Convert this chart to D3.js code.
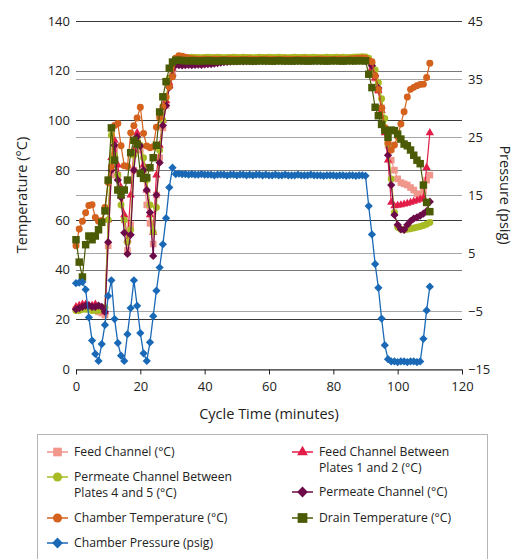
<!DOCTYPE html>
<html>
<head>
<meta charset="utf-8">
<script src="https://cdn.jsdelivr.net/npm/d3@7"></script>
<style>
  body { margin: 0; background: #fff; }
  svg { font-family: "Open Sans", sans-serif; }
</style>
</head>
<body>
<script>
// sampling grid, one reading per minute
const minutes = d3.range(0, 111);

const xTicks = [0, 20, 40, 60, 80, 100, 120];
const tempTicks = [0, 20, 40, 60, 80, 100, 120, 140];
const pressTicks = [-15, -5, 5, 15, 25, 35, 45];

// t0-31, plateau t32-89, t90-110
const feedChannel = [
  24, 24, 24.5, 25, 25, 24.5, 24, 23, 22.5, 21.7,
  49.6, 78, 88, 78, 70, 60, 47.7, 58, 80, 92,
  88, 78, 66, 58.6, 50.3, 70, 85, 97, 106, 114,
  120, 123,
  124.6, 124.5, 124.4, 124.3, 124.3, 124.4, 124.3, 124.2, 124.3, 124.4,
  124.3, 124.3, 124.2, 124.3, 124.4, 124.3, 124.3, 124.4, 124.3, 124.2,
  124.3, 124.3, 124.4, 124.3, 124.3, 124.2, 124.3, 124.4, 124.3, 124.3,
  124.3, 124.4, 124.3, 124.2, 124.3, 124.3, 124.4, 124.3, 124.3, 124.2,
  124.3, 124.4, 124.3, 124.3, 124.3, 124.2, 124.3, 124.4, 124.3, 124.3,
  124.4, 124.3, 124.2, 124.3, 124.4, 124.3, 124.4, 124.5,
  124.5, 124, 121, 117, 112, 105, 97, 90, 84, 80,
  76.5, 75, 74.5, 74, 73, 72, 70.5, 70, 71.5, 76,
  78
];

const feedBetween = [
  25, 25.5, 26, 26, 25.5, 25.5, 26, 25, 24, 23,
  60, 85, 92, 82, 73, 62, 52, 70, 88, 95,
  90, 82, 72, 62, 55, 78, 90, 100, 108, 115,
  121, 124,
  124.8, 124.7, 124.6, 124.5, 124.5, 124.6, 124.5, 124.4, 124.5, 124.5,
  124.6, 124.5, 124.5, 124.4, 124.5, 124.6, 124.5, 124.5, 124.5, 124.4,
  124.5, 124.6, 124.5, 124.5, 124.4, 124.5, 124.5, 124.6, 124.5, 124.5,
  124.4, 124.5, 124.6, 124.5, 124.5, 124.5, 124.4, 124.5, 124.6, 124.5,
  124.5, 124.4, 124.5, 124.5, 124.6, 124.5, 124.5, 124.4, 124.5, 124.6,
  124.5, 124.5, 124.4, 124.5, 124.6, 124.5, 124.6, 124.6,
  124.5, 124, 121, 117, 112, 104, 95, 84, 67, 65.6,
  65.8, 66, 66.3, 66.6, 67, 67.4, 67.8, 68.3, 68.8, 81,
  95
];

const permeateBetween = [
  23.5, 23.5, 24, 24, 24, 23.5, 23.5, 23.5, 24, 24.7,
  60, 94, 86, 78, 66, 60, 51, 56, 86, 93,
  90, 85, 76, 66, 55, 65, 88, 100, 109, 117,
  122, 125,
  125.5, 125.4, 125.3, 125.3, 125.4, 125.3, 125.3, 125.2, 125.3, 125.4,
  125.3, 125.3, 125.4, 125.3, 125.2, 125.3, 125.3, 125.4, 125.3, 125.3,
  125.4, 125.3, 125.3, 125.2, 125.3, 125.4, 125.3, 125.3, 125.4, 125.3,
  125.3, 125.4, 125.3, 125.3, 125.2, 125.3, 125.4, 125.3, 125.3, 125.4,
  125.3, 125.3, 125.4, 125.3, 125.2, 125.3, 125.4, 125.3, 125.3, 125.4,
  125.3, 125.4, 125.3, 125.3, 125.4, 125.5, 125.5, 125.6,
  125.5, 125, 123, 120.3, 115.2, 108.7, 100.8, 90.5, 76.4, 63,
  57, 56.2, 56, 56.2, 56.4, 56.7, 57, 57.3, 57.7, 58.2,
  58.9
];

const permeateChannel = [
  24, 24.5, 25, 25.5, 25.5, 25, 25, 25.5, 25, 23,
  51, 80, 90, 76, 69, 54.8, 46.3, 54, 80, 93.4,
  89.8, 80, 72, 63, 45.5, 70, 83, 98, 106, 113.3,
  118, 122.3,
  122.2, 122.1, 122.2, 122.3, 122.2, 122.3, 122.4, 122.3, 122.5, 122.6,
  122.7, 122.9, 123.1, 123.3, 123.5, 123.6, 123.7, 123.8, 123.8, 123.9,
  123.8, 123.9, 123.9, 123.8, 123.9, 124, 123.9, 123.9, 124, 123.9,
  123.9, 124, 124, 123.9, 124, 124, 123.9, 124, 124, 124.1,
  124, 124, 124.1, 124, 124, 124.1, 124, 124.1, 124, 124.1,
  124.1, 124, 124.1, 124.1, 124, 124.1, 124.2, 124.2,
  124, 124, 122, 118, 113, 105, 96, 86, 74, 62,
  58, 56.2, 56, 58, 59.5, 60.5, 61, 61.7, 62.5, 63.5,
  67.3
];

const chamberTemp = [
  49.6, 56.3, 59.4, 62.9, 65.8, 66.1, 61, 59.4, 59.7, 65,
  75, 81.4, 98, 98.8, 89.8, 81.8, 81.5, 95, 97.9, 101,
  105.3, 94.8, 89.7, 89, 89.4, 97.3, 101.2, 105.5, 109.5, 113.5,
  117.6, 125,
  126, 125.8, 125.4, 125, 124.8, 124.7, 124.6, 124.6, 124.7, 124.6,
  124.6, 124.7, 124.6, 124.6, 124.5, 124.6, 124.7, 124.6, 124.6, 124.5,
  124.6, 124.6, 124.7, 124.6, 124.5, 124.6, 124.6, 124.7, 124.6, 124.6,
  124.5, 124.6, 124.6, 124.7, 124.6, 124.6, 124.5, 124.6, 124.6, 124.7,
  124.6, 124.6, 124.5, 124.6, 124.7, 124.6, 124.6, 124.5, 124.6, 124.6,
  124.7, 124.6, 124.6, 124.7, 124.8, 124.9, 125, 125.1,
  125, 124, 123.6, 118, 112.5, 105, 97, 91, 88.1, 90.1,
  93.4, 98.6, 103.5, 109.4, 112.5, 113.3, 114, 114.5, 114.6, 117.3,
  123
];

const drainTemp = [
  52, 43, 37, 50, 53.5, 52, 53.5, 56, 59, 63.6,
  76, 97, 84, 72, 70, 72, 76, 87, 92, 90.5,
  78.7, 76.7, 77, 81, 85, 90, 103.4, 109.5, 115.6, 121,
  123.5, 124.2,
  124.2, 124.1, 124, 124, 124.1, 124, 123.9, 124, 124, 124.1,
  124, 124, 123.9, 124, 124.1, 124, 124, 124, 123.9, 124,
  124.1, 124, 124, 123.9, 124, 124, 124.1, 124, 124, 123.9,
  124, 124.1, 124, 124, 124, 123.9, 124, 124.1, 124, 124,
  123.9, 124, 124, 124.1, 124, 124, 123.9, 124, 124.1, 124,
  124, 123.9, 124, 124.1, 124, 124, 124.1, 124,
  124, 118.6, 113.2, 105.3, 101.9, 98.4, 96.1, 93.2, 96.1, 95.9,
  94.5, 92.5, 90.5, 89.8, 88.1, 86, 84, 82.6, 74, 67,
  63.3
];

const chamberPressure = [
  -0.2, -0.1, 0, -1.3, -6.1, -10.1, -12.4, -13.6, -10.7, -7.4,
  -2.4, 0.3, -6.4, -10.5, -12.7, -13.6, -9.0, -4.5, 0.3, -4.1,
  -8.8, -12.3, -13.6, -10.4, -5.9, -1.5, 2.5, 6.5, 11, 16.3,
  19.7, 18.6,
  18.7, 18.6, 18.6, 18.5, 18.6, 18.5, 18.5, 18.6, 18.5, 18.5,
  18.5, 18.4, 18.5, 18.5, 18.5, 18.4, 18.5, 18.5, 18.4, 18.5,
  18.5, 18.4, 18.5, 18.4, 18.5, 18.5, 18.4, 18.5, 18.4, 18.4,
  18.5, 18.4, 18.4, 18.5, 18.4, 18.4, 18.4, 18.5, 18.4, 18.4,
  18.4, 18.5, 18.4, 18.4, 18.4, 18.3, 18.4, 18.4, 18.4, 18.3,
  18.4, 18.4, 18.3, 18.4, 18.4, 18.3, 18.4, 18.4,
  18.3, 13.1, 8.2, 3.1, -1.0, -6.3, -10.9, -13.3, -13.7, -13.7,
  -13.8, -13.7, -13.7, -13.8, -13.7, -13.7, -13.8, -13.7, -9.8, -4.9,
  -0.8
];

const seriesNames = [
  "Feed Channel (°C)", "Feed Channel Between Plates 1 and 2 (°C)",
  "Permeate Channel Between Plates 4 and 5 (°C)", "Permeate Channel (°C)",
  "Chamber Temperature (°C)", "Drain Temperature (°C)", "Chamber Pressure (psig)"
];

const width = 516, height = 559;
const svg = d3.select("body").append("svg")
  .attr("width", width)
  .attr("height", height);

const x = d3.scaleLinear().domain([0, 120]).range([76, 462]);
const yT = d3.scaleLinear().domain([0, 140]).range([369, 21]);
const yP = d3.scaleLinear().domain([-15, 45]).range([369, 21]);

// excel style diamond (square turned 45deg)
const diamond = {
  draw(ctx, size) {
    const r = Math.sqrt(size / 2);
    ctx.moveTo(0, -r); ctx.lineTo(r, 0); ctx.lineTo(0, r); ctx.lineTo(-r, 0); ctx.closePath();
  }
};

// gridlines: pressure first (lighter), then temperature
svg.append("g").selectAll("line")
  .data(pressTicks)
  .enter().append("line")
  .attr("x1", 76).attr("x2", 462)
  .attr("y1", d => Math.round(yP(d)) + 0.5)
  .attr("y2", d => Math.round(yP(d)) + 0.5)
  .attr("stroke", "#a6a6a6");

svg.append("g").selectAll("line")
  .data(tempTicks.slice(1))
  .enter().append("line")
  .attr("x1", 76).attr("x2", 462)
  .attr("y1", d => Math.round(yT(d)) + 0.5)
  .attr("y2", d => Math.round(yT(d)) + 0.5)
  .attr("stroke", d => d % 40 === 0 ? "#7a7a7a" : "#3a3a3a");

// axes
const xAxis = svg.append("g")
  .attr("transform", "translate(0,369.5)")
  .call(d3.axisBottom(x).tickValues(xTicks).tickSize(5).tickSizeOuter(0));
xAxis.select(".domain").attr("stroke", "#222");
xAxis.selectAll(".tick line").attr("stroke", "#222");

const yAxisL = svg.append("g")
  .attr("transform", "translate(76,0)")
  .call(d3.axisLeft(yT).tickValues(tempTicks).tickSize(0).tickPadding(6));
yAxisL.select(".domain").remove();

const yAxisR = svg.append("g")
  .attr("transform", "translate(462,0)")
  .call(d3.axisRight(yP).tickValues(pressTicks).tickSize(0).tickPadding(6));
yAxisR.select(".domain").remove();

svg.selectAll(".tick text")
  .attr("font-family", "'Open Sans', sans-serif")
  .attr("font-size", 13)
  .attr("fill", "#222");
xAxis.selectAll(".tick text").attr("dy", "1.05em");

// titles
svg.append("text")
  .attr("x", 269).attr("y", 419)
  .attr("text-anchor", "middle")
  .attr("font-size", 14.5).attr("fill", "#222")
  .text("Cycle Time (minutes)");

svg.append("text")
  .attr("transform", "translate(27,195) rotate(-90)")
  .attr("text-anchor", "middle")
  .attr("font-size", 14.5).attr("fill", "#222")
  .text("Temperature (°C)");

svg.append("text")
  .attr("transform", "translate(500,195) rotate(90)")
  .attr("text-anchor", "middle")
  .attr("font-size", 14.5).attr("fill", "#222")
  .text("Pressure (psig)");

// series definitions
const series = [
  { name: seriesNames[0], values: feedChannel, y: yT, color: "#f0968b", symbol: d3.symbolSquare, size: 44, lw: 1.2 },
  { name: seriesNames[1], values: feedBetween, y: yT, color: "#e21d48", symbol: d3.symbolTriangle, size: 30, lw: 1.2 },
  { name: seriesNames[2], values: permeateBetween, y: yT, color: "#a9bb24", symbol: d3.symbolCircle, size: 38, lw: 1.2 },
  { name: seriesNames[3], values: permeateChannel, y: yT, color: "#6c0b47", symbol: diamond, size: 34, lw: 1.2 },
  { name: seriesNames[4], values: chamberTemp, y: yT, color: "#d4611c", symbol: d3.symbolCircle, size: 38, lw: 1.2 },
  { name: seriesNames[5], values: drainTemp, y: yT, color: "#4b5b05", symbol: d3.symbolSquare, size: 56, lw: 1.2 },
  { name: seriesNames[6], values: chamberPressure, y: yP, color: "#1a69b6", symbol: diamond, size: 34, lw: 1.3 }
];

series.forEach(s => {
  const g = svg.append("g");
  const line = d3.line()
    .x((d, i) => x(minutes[i]))
    .y(d => s.y(d));
  g.append("path")
    .datum(s.values)
    .attr("fill", "none")
    .attr("stroke", s.color)
    .attr("stroke-width", s.lw)
    .attr("d", line);
  g.selectAll("path.m")
    .data(s.values)
    .enter().append("path")
    .attr("class", "m")
    .attr("transform", (d, i) => "translate(" + x(minutes[i]) + "," + s.y(d) + ")")
    .attr("d", d3.symbol().type(s.symbol).size(s.size))
    .attr("fill", s.color);
});

// legend
const legend = svg.append("g");
legend.append("rect")
  .attr("x", 37.5).attr("y", 434.5)
  .attr("width", 450).attr("height", 140)
  .attr("fill", "#fff")
  .attr("stroke", "#b5b5b5");

const legendItems = [
  { s: 0, x: 47, y: 452, lines: ["Feed Channel (°C)"] },
  { s: 1, x: 292, y: 452, lines: ["Feed Channel Between", "Plates 1 and 2 (°C)"] },
  { s: 2, x: 47, y: 477, lines: ["Permeate Channel Between", "Plates 4 and 5 (°C)"] },
  { s: 3, x: 292, y: 492, lines: ["Permeate Channel (°C)"] },
  { s: 4, x: 47, y: 518, lines: ["Chamber Temperature (°C)"] },
  { s: 5, x: 292, y: 518, lines: ["Drain Temperature (°C)"] },
  { s: 6, x: 47, y: 543, lines: ["Chamber Pressure (psig)"] }
];

legendItems.forEach(it => {
  const s = series[it.s];
  const g = legend.append("g").attr("transform", "translate(" + it.x + "," + it.y + ")");
  g.append("line").attr("x1", 0).attr("x2", 21).attr("y1", 0).attr("y2", 0)
    .attr("stroke", s.color).attr("stroke-width", 1.5);
  g.append("path")
    .attr("transform", "translate(10.5,0)")
    .attr("d", d3.symbol().type(s.symbol).size(s.size * 1.7))
    .attr("fill", s.color);
  it.lines.forEach((l, k) => {
    g.append("text")
      .attr("x", 27).attr("y", k * 15.5)
      .attr("dy", "0.35em")
      .attr("font-size", 12.2).attr("fill", "#222")
      .text(l);
  });
});
</script>
</body>
</html>
